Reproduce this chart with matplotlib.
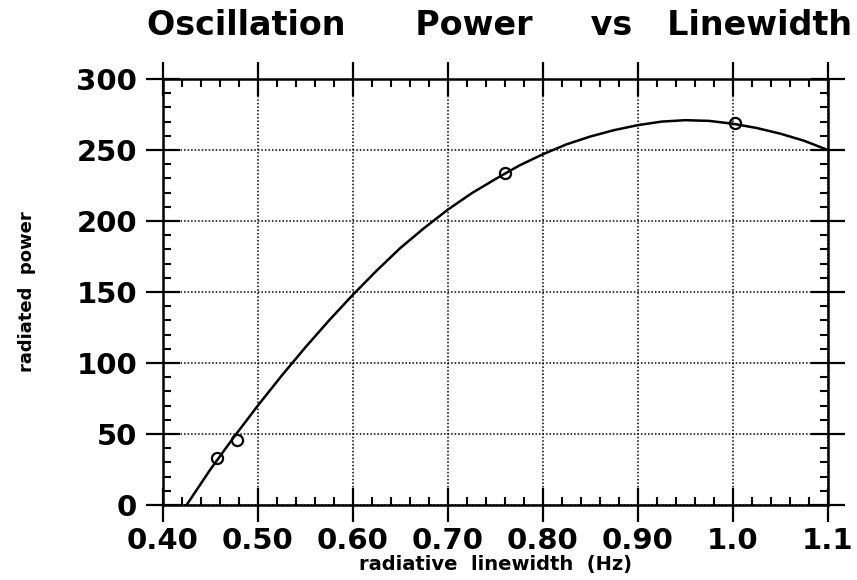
import numpy as np
import matplotlib
matplotlib.use('Agg')
import matplotlib.pyplot as plt
from matplotlib.ticker import MultipleLocator

# fitted curve
curve_x = [0.425, 0.45, 0.475, 0.50, 0.525, 0.55, 0.575, 0.60, 0.625, 0.65,
           0.675, 0.70, 0.725, 0.75, 0.775, 0.80, 0.825, 0.85, 0.875, 0.90,
           0.925, 0.95, 0.975, 1.00, 1.025, 1.05, 1.075, 1.10]
curve_y = [0, 25, 48, 70, 91, 111, 130, 148, 165, 181,
           195, 208, 219.5, 229.5, 239, 247, 254, 259.5, 264, 267.5,
           270, 271, 270.5, 268.5, 265.5, 261.5, 256.5, 250]

# measured points
pts_x = [0.457, 0.478, 0.760, 1.002]
pts_y = [33, 46, 234, 269]

xticks = [0.40, 0.50, 0.60, 0.70, 0.80, 0.90, 1.0, 1.1]
xlabels = ['0.40', '0.50', '0.60', '0.70', '0.80', '0.90', '1.0', '1.1']
yticks = [0, 50, 100, 150, 200, 250, 300]

plt.rcParams['font.family'] = ['DejaVu Sans']
plt.rcParams['font.weight'] = 'bold'

def main():
    fig = plt.figure(figsize=(8.57, 5.80), dpi=100)
    ax = fig.add_axes([0.190, 0.1293, 0.776, 0.7345])

    ax.plot(curve_x, curve_y, color='black', linewidth=1.8)
    ax.plot(pts_x, pts_y, 'o', markerfacecolor='none', markeredgecolor='black',
            markersize=8, markeredgewidth=1.6)

    ax.set_xlim(0.40, 1.10)
    ax.set_ylim(0, 300)
    ax.set_xticks(xticks)
    ax.set_xticklabels(xlabels)
    ax.set_yticks(yticks)
    ax.xaxis.set_minor_locator(MultipleLocator(0.02))
    ax.yaxis.set_minor_locator(MultipleLocator(10))

    # dotted grid on the major ticks
    ax.grid(True, which='major', color='black', linestyle=(0, (1.0, 1.3)), linewidth=1.1)

    for s in ax.spines.values():
        s.set_linewidth(1.8)

    ax.tick_params(which='major', direction='inout', length=24, width=1.6,
                   top=True, right=True, labelsize=21)
    ax.tick_params(axis='x', which='major', pad=3.8)
    ax.tick_params(axis='y', which='major', pad=6.5)
    ax.tick_params(which='minor', direction='in', length=6, width=1.5,
                   top=True, right=True)

    ax.set_xlabel('radiative  linewidth  (Hz)', fontsize=14, fontweight='bold')
    ax.xaxis.set_label_coords(0.5, -0.118)
    ax.set_ylabel('radiated  power', fontsize=13, fontweight='bold')
    ax.yaxis.set_label_coords(-0.19, 0.5)

    fig.text(147 / 857, 1 - 35 / 580, 'Oscillation      Power     vs   Linewidth',
             fontsize=24, fontweight='bold', ha='left', va='baseline')

    fig.savefig('out.png', dpi=100)

if __name__ == "__main__":
    main()
